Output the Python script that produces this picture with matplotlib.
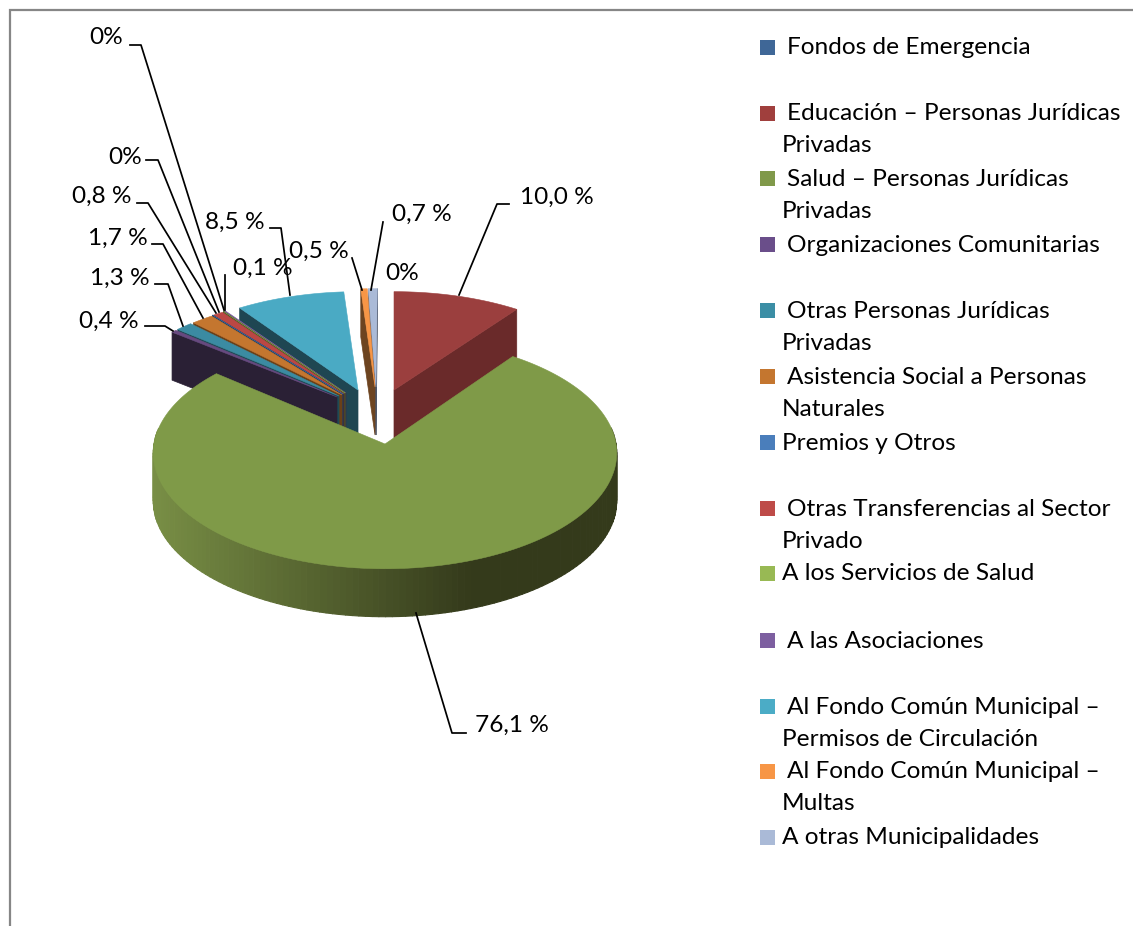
# plot.py
"""Exploded 3D pie of transfers, drawn by hand since matplotlib has no 3D pie."""

import numpy as np
from matplotlib import pyplot as plt
from matplotlib.collections import PolyCollection
from matplotlib.patches import Polygon, Rectangle

# Data
categories = [
    " Fondos de Emergencia",
    " Educación – Personas Jurídicas\nPrivadas",
    " Salud – Personas Jurídicas\nPrivadas",
    " Organizaciones Comunitarias",
    " Otras Personas Jurídicas\nPrivadas",
    " Asistencia Social a Personas\nNaturales",
    "Premios y Otros",
    " Otras Transferencias al Sector\nPrivado",
    "A los Servicios de Salud",
    " A las Asociaciones",
    " Al Fondo Común Municipal –\nPermisos de Circulación",
    " Al Fondo Común Municipal –\nMultas",
    "A otras Municipalidades",
]
values = [0, 10.0, 76.1, 0.4, 1.3, 1.7, 0, 0.8, 0, 0.1, 8.5, 0.5, 0.7]
value_labels = ["0%", "10,0 %", "76,1 %", "0,4 %", "1,3 %", "1,7 %", "0%",
                "0,8 %", "0%", "0,1 %", "8,5 %", "0,5 %", "0,7 %"]

# Colours
top_colors = ["#3f6797", "#9b3f3e", "#7f9a48", "#67497f", "#3b8ba2", "#c4762f",
              "#4a7ebb", "#bb4744", "#98b954", "#7d5fa0", "#4aaac4", "#f79646",
              "#aabad7"]
wall_colors = ["#1f3450", "#6a2a2a", "#33391a", "#2a2035", "#1f4a55", "#6a4018",
               "#203a5c", "#5a2624", "#46552a", "#3a2c4a", "#1f4652", "#6d4420",
               "#4c5568"]
legend_colors = ["#3f6797", "#a03f3d", "#80994a", "#6a4e8a", "#3b8ea5", "#c4762f",
                 "#4a7ebb", "#be4b48", "#98b954", "#7d5fa0", "#4bacc6", "#f79646",
                 "#aabad7"]

# Layout, in pixels: where each exploded slice has its tip, and its radii
tip_x = [394, 394, 385, 337, 339, 342, 343, 344, 345, 346, 358, 375, 376]
tip_y = [390, 390, 444, 397, 396, 395, 394, 394, 393, 393, 390, 387, 387]
radius_x = [222, 222, 231, 226, 226, 226, 226, 226, 226, 226, 222, 222, 222]
radius_y = [106, 106, 115, 106, 106, 106, 106, 106, 106, 106, 106, 106, 106]
depth = 48
perspective = 0.078

# Label centres and leader lines
label_x = [402, 557, 512, 109, 120, 118, 125, 102, 106, 263, 235, 319, 422]
label_y = [274, 197, 725, 321, 278, 238, 158, 196, 38, 268, 222, 251, 214]
leaders = [
    None,
    [(509, 204), (497, 204), (459, 295)],
    [(466, 733), (452, 733), (416, 613)],
    [(145, 326), (165, 326), (173, 331)],
    [(155, 284), (168, 284), (183, 326)],
    [(152, 244), (163, 244), (203, 318)],
    [(146, 160), (158, 160), (219, 312)],
    [(137, 203), (148, 203), (216, 313)],
    [(130, 45), (141, 45), (224, 310)],
    [(225, 275), (225, 310)],
    [(270, 228), (281, 228), (290, 295)],
    [(352, 258), (362, 290)],
    [(383, 222), (371, 290)],
]

# Legend rows: y of the first line of each entry
legend_y = [47, 113, 178, 244, 310, 376, 442, 508, 573, 640, 706, 771, 837]
line_step = 32

FONT = "Lato"
FONT_SIZE = 17.6


def rim_point(i, theta):
    """Pixel position on the outer edge of slice i, theta clockwise from top."""
    u, v = np.sin(theta), np.cos(theta)
    s = 1 / (1 + perspective * v)
    return tip_x[i] + radius_x[i] * u * s, tip_y[i] - radius_y[i] * v * s


def rim_color(x):
    """Side of the big slice goes from olive on the left to dark on the right."""
    t = np.clip((x - 155) / (473 - 155), 0, 1)
    left = np.array([0x78, 0x8e, 0x45]) / 255
    right = np.array([0x34, 0x3a, 0x1b]) / 255
    return left + (right - left) * t


def draw_slice(ax, i, start, end):
    """Draw walls, rim and top face of one slice."""
    tip = (tip_x[i], tip_y[i])
    tip_low = (tip_x[i], tip_y[i] + depth)
    # Radial wall facing the viewer: the start one on the left half, end on right
    for angle in (start, end):
        facing = (angle == start and np.sin(angle) < 0) or \
                 (angle == end and np.sin(angle) > 0)
        if facing:
            px, py = rim_point(i, angle)
            ax.add_patch(Polygon([tip, (px, py), (px, py + depth), tip_low],
                                 closed=True, fc=wall_colors[i],
                                 ec=wall_colors[i], lw=0.5))
    # Outer side in thin strips, only the part that faces the viewer
    thetas = np.linspace(start, end, 180)
    thetas = thetas[np.cos(thetas) < 0.15]
    if len(thetas) > 1:
        px, py = rim_point(i, thetas)
        strips = []
        cols = []
        for j in range(len(thetas) - 1):
            strips.append([(px[j], py[j]), (px[j + 1], py[j + 1]),
                           (px[j + 1], py[j + 1] + depth), (px[j], py[j] + depth)])
            cols.append(rim_color(px[j]))
        ax.add_collection(PolyCollection(strips, facecolors=cols, edgecolors=cols,
                                         linewidths=0.8))
    # Top face
    thetas = np.linspace(start, end, max(int((end - start) * 80), 2))
    px, py = rim_point(i, thetas)
    outline = [tip] + list(zip(px, py))
    ax.add_patch(Polygon(outline, closed=True, fc=top_colors[i], ec=top_colors[i],
                         lw=0.4))


fig = plt.figure(figsize=(11.33, 9.26), dpi=100)
ax = fig.add_axes([0, 0, 1, 1])
ax.set_xlim(0, 1133)
ax.set_ylim(926, 0)
ax.axis("off")

# Chart frame, open to the right and the bottom
ax.plot([10, 10, 1133], [926, 10, 10], color="#868686", lw=1.6,
        solid_joinstyle="miter")

# Slice angles clockwise from the top
edges = np.deg2rad(np.cumsum([0] + values) * 360 / 100)

# Back slices first, the big one and the red one come last
draw_order = [12, 11, 10, 9, 8, 7, 6, 5, 4, 3, 0, 1, 2]
for i in draw_order:
    draw_slice(ax, i, edges[i], edges[i + 1])

# Leader lines and value labels
for leader in leaders:
    if leader is not None:
        xs, ys = zip(*leader)
        ax.plot(xs, ys, color="black", lw=1.25)
for i, label in enumerate(value_labels):
    ax.text(label_x[i], label_y[i], label, ha="center", va="center",
            fontsize=FONT_SIZE, family=FONT, color="black")

# Legend
for i, name in enumerate(categories):
    ax.add_patch(Rectangle((760, legend_y[i] - 7.5), 15, 15, fc=legend_colors[i],
                           ec="none"))
    lines = name.split("\n")
    first_x = 787 if lines[0].startswith(" ") else 782
    ax.text(first_x, legend_y[i] + 1, lines[0].strip(), ha="left", va="center",
            fontsize=FONT_SIZE, family=FONT, color="black")
    for n, line in enumerate(lines[1:], start=1):
        ax.text(782, legend_y[i] + 1 + n * line_step, line, ha="left", va="center",
                fontsize=FONT_SIZE, family=FONT, color="black")

plt.savefig("out.png", dpi=100)
